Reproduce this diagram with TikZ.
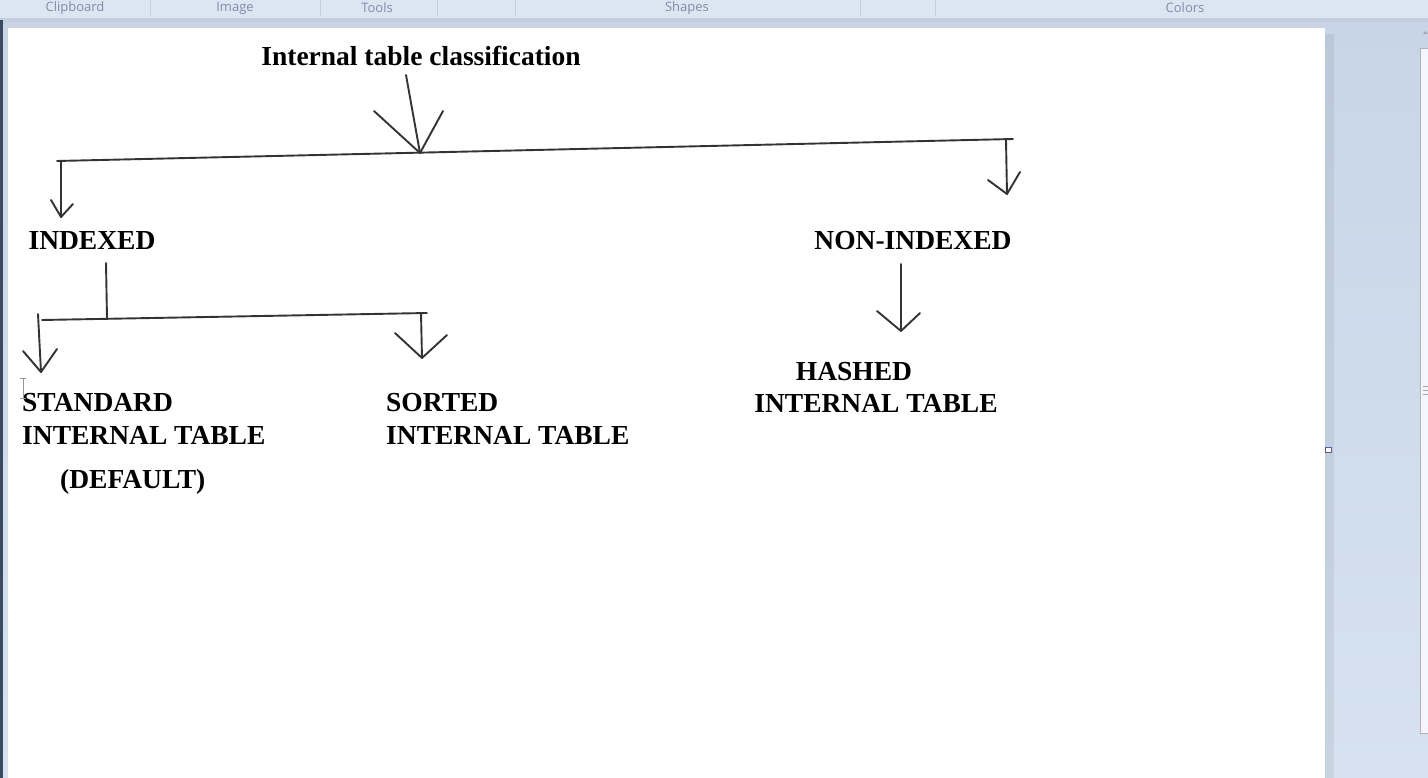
\documentclass[tikz,border=0pt]{standalone}
\usepackage{fontspec}
\setmainfont{Liberation Serif}
\newfontfamily\uifont{Open Sans}
\definecolor{tbbg}{HTML}{DCE6F3}
\definecolor{tblabel}{HTML}{7F8EA6}
\definecolor{tbsep}{HTML}{C4D0E0}
\definecolor{wsbg}{HTML}{C7D5E7}
\definecolor{wsbg2}{HTML}{D6E2F0}
\definecolor{edge}{HTML}{3A4A60}
\definecolor{ink}{HTML}{333333}
\tikzset{
  lbl/.style={inner sep=0pt, font=\fontsize{27.5}{32}\selectfont\bfseries, text=black},
  ui/.style={inner sep=0pt, font=\uifont\fontsize{13}{15}\selectfont, text=tblabel},
  pen/.style={draw=ink, line width=1.9pt, line cap=round, line join=round},
}
\begin{document}
\begin{tikzpicture}[x=1pt,y=-1pt]
\useasboundingbox (0,0) rectangle (1428,778);
% workspace and toolbar
\shade[top color=wsbg, bottom color=wsbg2] (0,18) rectangle (1428,778);
\fill[tbbg] (0,0) rectangle (1428,18);
\fill[tbsep] (0,18) rectangle (1428,22);
\foreach \sx in {150,320,437,515,860,935} \draw[tbsep, line width=1pt] (\sx,0) -- (\sx,16);
\node[ui] (tclip) at (75,8) {Clipboard};
\node[ui] (timg) at (235,8) {Image};
\node[ui] (ttools) at (377,8) {Tools};
\node[ui] (tshapes) at (687,8) {Shapes};
\node[ui] (tcolors) at (1185,8) {Colors};
\fill[edge] (0,20) rectangle (2.5,778);
\fill[black, opacity=0.06] (1325,34) rectangle (1334,778);
\fill[white] (8,28) rectangle (1325,778);
% scrollbar
\draw[gray!60, fill=white!96!blue, line width=0.8pt] (1420,48) rectangle (1432,733);
\fill[gray!70] (1423,34) -- (1428,34) -- (1425.5,31) -- cycle;
\foreach \gy in {386,390,394} \draw[gray!70, line width=1pt] (1423,\gy) -- (1428,\gy);
% resize handle
\draw[gray!70!blue, fill=white, line width=0.8pt] (1325,447) rectangle (1331,452);

% text
\node[lbl, anchor=base] (title) at (421,66) {Internal table classification};
\node[lbl, anchor=base] (indexed) at (92,250) {INDEXED};
\node[lbl, anchor=base] (nonindexed) at (913,250) {NON-INDEXED};
\node[lbl, anchor=base west] (standard1) at (22,411) {STANDARD};
\node[lbl, anchor=base west] (standard2) at (22,444) {INTERNAL TABLE};
\node[lbl, anchor=base west] (default) at (60,488) {(DEFAULT)};
\node[lbl, anchor=base west] (sorted1) at (386,411) {SORTED};
\node[lbl, anchor=base west] (sorted2) at (386,444) {INTERNAL TABLE};
\node[lbl, anchor=base] (hashed1) at (854,380) {HASHED};
\node[lbl, anchor=base] (hashed2) at (876,412) {INTERNAL TABLE};

% junction coordinates
\coordinate (t0) at (406,75);
\coordinate (t1) at (420,153);
\coordinate (hL) at (57,161);
\coordinate (hR) at (1013,139);
\coordinate (l0) at (61,162);
\coordinate (l1) at (61,217);
\coordinate (r0) at (1006,140);
\coordinate (r1) at (1007,194);
\coordinate (i0) at (106,263);
\coordinate (i1) at (107,318);
\coordinate (sL) at (42,320);
\coordinate (sR) at (427,313);
\coordinate (a0) at (38,314);
\coordinate (a1) at (41,372);
\coordinate (b0) at (421,313);
\coordinate (b1) at (422,358);
\coordinate (n0) at (901,264);
\coordinate (n1) at (901,331);

% connectors
\draw[pen] (t0) -- (t1);
\draw[pen] (374,111) -- (t1) -- (443,111);
\draw[pen] (hL) -- (hR);
\draw[pen] (l0) -- (l1);
\draw[pen] (51,200) -- (l1) -- (73,204);
\draw[pen] (r0) -- (r1);
\draw[pen] (988,180) -- (r1) -- (1020,172);
\draw[pen] (i0) -- (i1);
\draw[pen] (sL) -- (sR);
\draw[pen] (a0) -- (a1);
\draw[pen] (23,351) -- (a1) -- (57,349);
\draw[pen] (b0) -- (b1);
\draw[pen] (395,333) -- (b1) -- (447,335);
\draw[pen] (n0) -- (n1);
\draw[pen] (877,311) -- (n1) -- (920,313);

% text cursor (I-beam)
\draw[gray!80, line width=1pt] (23,378) -- (23,398) (20,378) -- (26,378) (20,398) -- (26,398);
\end{tikzpicture}
\end{document}
